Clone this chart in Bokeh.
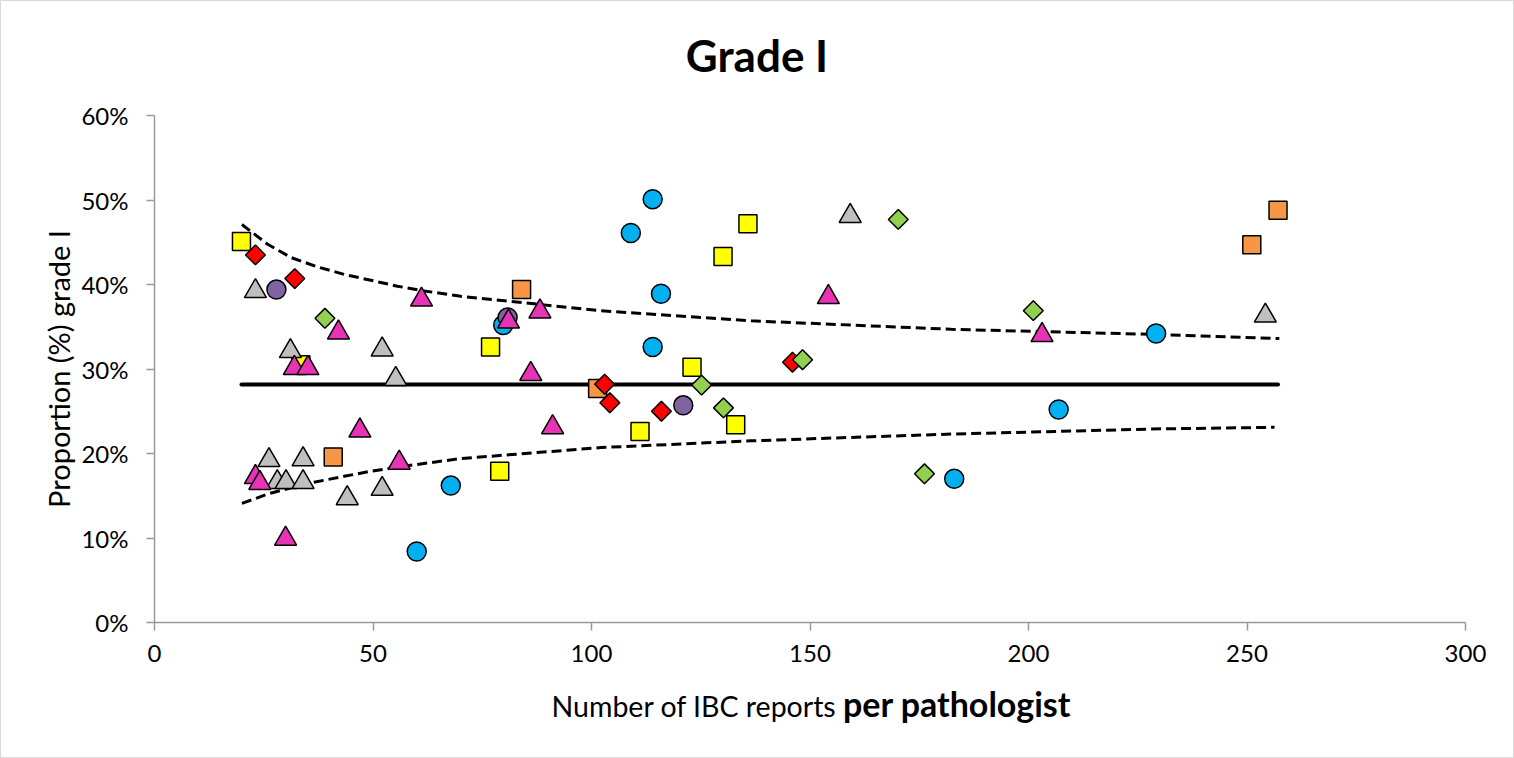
from bokeh.plotting import figure
from bokeh.models import Range1d, FixedTicker, PrintfTickFormatter, Div
from bokeh.layouts import column
from bokeh.embed import file_html
from bokeh.resources import INLINE

# ---- data (x = number of IBC reports, y = proportion grade I in %) ----
blue_x = [114.0, 109.0, 115.9, 114.0, 79.8, 67.8, 60.0, 206.9, 183.0, 229.2]
blue_y = [50.1, 46.1, 38.9, 32.6, 35.2, 16.2, 8.4, 25.2, 17.0, 34.2]

orange_x = [40.9, 84.0, 101.4, 251.1, 257.1]
orange_y = [19.6, 39.4, 27.7, 44.7, 48.8]

yellow_x = [19.9, 33.5, 76.9, 79.0, 111.1, 123.0, 130.1, 133.0, 135.8]
yellow_y = [45.1, 30.5, 32.6, 17.9, 22.6, 30.2, 43.3, 23.4, 47.2]

red_x = [23.1, 32.1, 103.0, 104.2, 116.0, 146.0]
red_y = [43.5, 40.7, 28.2, 26.0, 25.0, 30.8]

gray_x = [23.1, 31.1, 52.1, 55.2, 26.2, 34.0, 28.1, 30.1, 34.0, 44.1, 52.1, 159.2, 254.2]
gray_y = [39.2, 32.1, 32.3, 28.8, 19.2, 19.3, 16.6, 16.6, 16.6, 14.7, 15.8, 48.1, 36.3]

purple_x = [27.9, 80.8, 121.0]
purple_y = [39.4, 36.1, 25.7]

magenta_x = [32.0, 35.1, 61.1, 42.1, 47.0, 56.0, 23.1, 24.1, 30.0, 81.0, 88.2, 86.1, 91.1, 154.2, 203.1]
magenta_y = [30.1, 30.1, 38.2, 34.3, 22.7, 18.9, 17.2, 16.5, 9.9, 35.6, 36.8, 29.4, 23.1, 38.5, 34.0]

green_x = [39.0, 125.2, 130.2, 148.3, 170.2, 201.1, 176.2]
green_y = [36.0, 28.1, 25.4, 31.1, 47.7, 36.9, 17.6]

mean_x = [19.9, 257.1]
mean_y = [28.18, 28.18]

upper_x = [20.0, 25.8, 31.2, 37.2, 43.4, 49.5, 55.6, 60.9, 70.1, 102.1, 136.5, 182.3, 228.1, 257.4]
upper_y = [47.1, 44.8, 43.2, 42.1, 41.2, 40.5, 39.8, 39.3, 38.6, 36.9, 35.7, 34.7, 34.1, 33.6]

lower_x = [20.0, 26.5, 36.5, 43.4, 49.5, 58.6, 70.1, 102.1, 136.5, 182.3, 228.1, 256.3]
lower_y = [14.1, 15.3, 16.6, 17.3, 17.9, 18.6, 19.4, 20.7, 21.5, 22.3, 22.9, 23.1]

x_ticks = [0, 50, 100, 150, 200, 250, 300]
y_ticks = [0, 10, 20, 30, 40, 50, 60]

title_text = "Grade I"
xlabel_regular = "Number of IBC reports"
xlabel_bold = "per pathologist"
ylabel_text = "Proportion (%) grade I"

FONT = "Lato"

title_div = Div(
    text=f'<div style="box-sizing:content-box; width:1512px; padding-top:32px; text-align:center; '
         f'font-family:{FONT}; font-weight:bold; font-size:44px; line-height:44px; color:black; '
         f'white-space:nowrap;">{title_text}</div>',
    width=1512, height=90, margin=0)

p = figure(width=1512, height=590, output_backend="svg", toolbar_location=None,
           x_range=Range1d(0, 300), y_range=Range1d(0, 60),
           min_border_left=153, min_border_right=48, min_border_top=24, min_border_bottom=59)
p.outline_line_color = None
p.xgrid.visible = False
p.ygrid.visible = False
p.background_fill_color = "white"
p.border_fill_color = "white"

for ax in (p.xaxis[0], p.yaxis[0]):
    ax.axis_line_color = "#9a9a9a"
    ax.axis_line_width = 1.5
    ax.major_tick_line_color = "#9a9a9a"
    ax.major_tick_line_width = 1.5
    ax.major_tick_in = 0
    ax.major_tick_out = 8
    ax.minor_tick_line_color = None
    ax.major_label_text_font = FONT
    ax.major_label_text_font_size = "24px"
    ax.major_label_text_color = "black"

p.xaxis.ticker = FixedTicker(ticks=x_ticks)
p.yaxis.ticker = FixedTicker(ticks=y_ticks)
p.yaxis.formatter = PrintfTickFormatter(format="%d%%")
p.xaxis.major_label_standoff = 14
p.yaxis.major_label_standoff = 18

p.yaxis.axis_label = ylabel_text
p.yaxis.axis_label_text_font = FONT
p.yaxis.axis_label_text_font_size = "29px"
p.yaxis.axis_label_text_font_style = "normal"
p.yaxis.axis_label_text_color = "black"
p.yaxis.axis_label_standoff = 2

# lines
p.line(mean_x, mean_y, line_color="black", line_width=4, line_cap="round")
p.line(upper_x, upper_y, line_color="black", line_width=3, line_dash="10 5")
p.line(lower_x, lower_y, line_color="black", line_width=3, line_dash="10 5")

# markers (z-order as in reference)
p.scatter(blue_x, blue_y, marker="circle", size=19, fill_color="#00B0F0", line_color="black", line_width=1.5)
p.scatter(orange_x, orange_y, marker="square", size=18, fill_color="#F79646", line_color="black", line_width=1.5)
p.scatter(yellow_x, yellow_y, marker="square", size=18, fill_color="#FFFF00", line_color="black", line_width=1.5)
p.scatter(red_x, red_y, marker="square", size=14, angle=0.785398, fill_color="#FF0000", line_color="black", line_width=1.5)
p.scatter(gray_x, gray_y, marker="triangle", size=22, fill_color="#BFBFBF", line_color="black", line_width=1.5)
p.scatter(purple_x, purple_y, marker="circle", size=19, fill_color="#8064A2", line_color="black", line_width=1.5)
p.scatter(magenta_x, magenta_y, marker="triangle", size=22, fill_color="#E833B7", line_color="black", line_width=1.5)
p.scatter(green_x, green_y, marker="square", size=14, angle=0.785398, fill_color="#92D050", line_color="black", line_width=1.5)

xlabel_div = Div(
    text=f'<div style="box-sizing:content-box; width:1404px; padding-left:108px; padding-top:6px; '
         f'text-align:center; font-family:{FONT}; font-size:28.5px; line-height:34px; color:black; '
         f'white-space:nowrap;">{xlabel_regular} '
         f'<span style="font-weight:bold; font-size:34px;">{xlabel_bold}</span></div>',
    width=1512, height=76, margin=0)

layout = column(title_div, p, xlabel_div, spacing=0,
                styles={"border": "1px solid #d9d9d9", "background-color": "white"})

open("out.html", "w").write(file_html(layout, INLINE))
